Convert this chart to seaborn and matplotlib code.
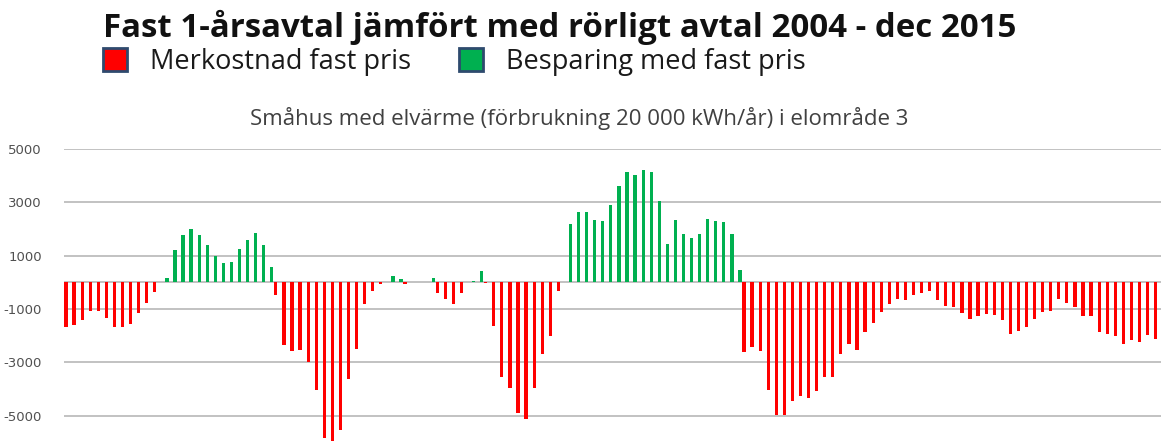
import matplotlib
matplotlib.use("Agg")
import matplotlib.pyplot as plt
from matplotlib.patches import Patch
import seaborn as sns
import pandas as pd

# monthly difference fixed vs variable price (kr)
values = [
    -1680, -1590, -1410, -1060, -1070, -1320, -1690, -1660, -1570, -1160,
    -770, -350, 175, 1230, 1770, 1990, 1770, 1390, 1000, 710,
    750, 1260, 1580, 1860, 1410, 560, -470, -2340, -2580, -2550,
    -2980, -4020, -5830, -5950, -5520, -3610, -2500, -820, -310, -60,
    250, 140, -70, 0, 0, 160, -390, -610, -830, -400,
    40, 420, -40, -1630, -3560, -3970, -4890, -5120, -3970, -2670,
    -2020, -310, 2200, 2640, 2640, 2350, 2290, 2890, 3620, 4130,
    4020, 4230, 4130, 3060, 1440, 2320, 1830, 1660, 1810, 2390,
    2300, 2270, 1820, 470, -2600, -2430, -2570, -4030, -4970, -4970,
    -4450, -4270, -4350, -4070, -3560, -3550, -2670, -2330, -2530, -1880,
    -1530, -1130, -830, -620, -680, -490, -410, -320, -670, -870,
    -930, -1160, -1360, -1280, -1180, -1210, -1410, -1930, -1840, -1680,
    -1390, -1110, -1080, -610, -760, -910, -1280, -1250, -1880, -1940,
    -2030, -2320, -2150, -2250, -1970, -2130,
]
months = list(range(1, len(values) + 1))
series_names = ["Merkostnad fast pris", "Besparing med fast pris"]
colors = ["#ff0000", "#00b050"]
yticks = [-5000, -3000, -1000, 1000, 3000, 5000]

title = "Fast 1-årsavtal jämfört med rörligt avtal 2004 - dec 2015"
subtitle = "Småhus med elvärme (förbrukning 20 000 kWh/år) i elområde 3"

df = pd.DataFrame({"Månad": months, "Kronor": values})
df["Serie"] = [series_names[0] if v <= 0 else series_names[1] for v in values]

sns.set_style("white")
fig = plt.figure(figsize=(11.61, 4.41), dpi=100)
ax = fig.add_axes([64 / 1161, 0, 1097 / 1161, 292 / 441])

sns.barplot(data=df, x="Månad", y="Kronor", hue="Serie", hue_order=series_names,
            palette=colors, dodge=True, width=1.0, saturation=1, errorbar=None,
            linewidth=0, legend=False, ax=ax)

# thinner bars, like the excel original
for p in ax.patches:
    w = p.get_width()
    p.set_x(p.get_x() + (w - 0.4) / 2)
    p.set_width(0.4)

ax.set_xlim(-0.498, 135.41)
ax.set_ylim(-5950, 5000)
ax.set_yticks(yticks)
ax.set_yticklabels([str(t) for t in yticks])
ax.set_xticks([])
ax.set_xlabel("")
ax.set_ylabel("")
ax.grid(axis="y", color="#bdbdbd", lw=1.3)
ax.axhline(0, color="#bdbdbd", lw=1.3, zorder=0.5)
ax.set_axisbelow(True)
ax.tick_params(axis="y", length=0, pad=16, labelsize=9.5, labelcolor="#505050")
sns.despine(ax=ax, left=True, bottom=True)

fig.text(103 / 1161, 1 - 37 / 441, title, fontsize=23.8, fontweight="bold",
         family="Open Sans", va="baseline", color="#111111")

handles = [Patch(facecolor=c, edgecolor="#2e4a6e", linewidth=2) for c in colors]
fig.legend(handles, series_names, loc="center left",
           bbox_to_anchor=(103 / 1161, 1 - 62 / 441), ncol=2, frameon=False,
           prop={"family": "Open Sans", "size": 19.5}, handlelength=0.9,
           handleheight=0.9, handletextpad=0.85, columnspacing=1.75,
           borderpad=0, borderaxespad=0, labelcolor="#1a1a1a")

fig.text(579 / 1161, 1 - 118 / 441, subtitle, fontsize=16, family="Open Sans",
         color="#404040", ha="center", va="center")

fig.savefig("out.png", dpi=100)
